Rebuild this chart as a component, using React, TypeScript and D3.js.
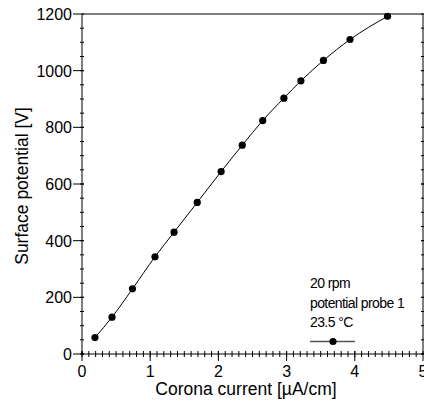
import React, { useEffect, useRef } from 'react';
import * as d3 from 'd3';

// corona current [µA/cm]
const current = [0.19, 0.44, 0.74, 1.07, 1.35, 1.69, 2.04, 2.35, 2.65, 2.96, 3.21, 3.54, 3.93, 4.48];
// surface potential [V]
const potential = [58, 130, 230, 343, 430, 535, 644, 737, 824, 903, 964, 1036, 1110, 1192];

const xTicks = [0, 1, 2, 3, 4, 5];
const yTicks = [0, 200, 400, 600, 800, 1000, 1200];
const legendLines = ['20 rpm', 'potential probe 1', '23.5 °C'];

export default function App() {
  const svgRef = useRef<SVGSVGElement>(null);

  useEffect(() => {
    const width = 424;
    const height = 404;
    const m = { left: 82, right: 423, top: 14, bottom: 354 };
    const font = 'Liberation Sans, Arial, sans-serif';

    const svg = d3.select(svgRef.current).attr('width', width).attr('height', height);
    svg.selectAll('*').remove();

    const x = d3.scaleLinear().domain([0, 5]).range([m.left, m.right]);
    const y = d3.scaleLinear().domain([0, 1200]).range([m.bottom, m.top]);

    // frame
    svg
      .append('rect')
      .attr('x', m.left)
      .attr('y', m.top)
      .attr('width', m.right - m.left)
      .attr('height', m.bottom - m.top)
      .attr('fill', 'none')
      .attr('stroke', '#000')
      .attr('stroke-width', 1);

    // x minor ticks (cross the axis)
    const xMinor = d3.range(0, 50).map((i) => i / 10);
    svg
      .append('g')
      .selectAll('line')
      .data(xMinor)
      .join('line')
      .attr('x1', (d) => x(d))
      .attr('x2', (d) => x(d))
      .attr('y1', m.bottom - 3)
      .attr('y2', m.bottom + 3)
      .attr('stroke', '#000');

    svg
      .append('g')
      .selectAll('line')
      .data(xTicks)
      .join('line')
      .attr('x1', (d) => x(d))
      .attr('x2', (d) => x(d))
      .attr('y1', m.bottom - 3)
      .attr('y2', m.bottom + 7)
      .attr('stroke', '#000');

    svg
      .append('g')
      .attr('font-family', font)
      .attr('font-size', 16)
      .attr('text-anchor', 'middle')
      .selectAll('text')
      .data(xTicks)
      .join('text')
      .attr('x', (d) => x(d))
      .attr('y', 377)
      .text((d) => d);

    // y ticks, left and right
    const yMinor = d3.range(0, 1200, 50);
    [m.left, m.right].forEach((ax, side) => {
      const dir = side === 0 ? -1 : 1;
      svg
        .append('g')
        .selectAll('line')
        .data(yMinor)
        .join('line')
        .attr('x1', ax - 2)
        .attr('x2', ax + 2)
        .attr('y1', (d) => y(d))
        .attr('y2', (d) => y(d))
        .attr('stroke', '#000');
      svg
        .append('g')
        .selectAll('line')
        .data(yTicks)
        .join('line')
        .attr('x1', ax - dir * 2)
        .attr('x2', ax + dir * 9)
        .attr('y1', (d) => y(d))
        .attr('y2', (d) => y(d))
        .attr('stroke', '#000');
    });

    svg
      .append('g')
      .attr('font-family', font)
      .attr('font-size', 16)
      .attr('text-anchor', 'end')
      .selectAll('text')
      .data(yTicks)
      .join('text')
      .attr('x', 72)
      .attr('y', (d) => y(d) + 6)
      .text((d) => d);

    // axis titles
    svg
      .append('text')
      .attr('font-family', font)
      .attr('font-size', 17.5)
      .attr('text-anchor', 'middle')
      .attr('x', 246)
      .attr('y', 395)
      .text('Corona current [µA/cm]');

    svg
      .append('text')
      .attr('font-family', font)
      .attr('font-size', 17.5)
      .attr('text-anchor', 'middle')
      .attr('transform', `translate(28,186) rotate(-90)`)
      .text('Surface potential [V]');

    // data
    const pts = current.map((c, i) => [c, potential[i]] as [number, number]);
    const line = d3
      .line<[number, number]>()
      .x((d) => x(d[0]))
      .y((d) => y(d[1]))
      .curve(d3.curveMonotoneX);

    svg
      .append('path')
      .attr('d', line(pts))
      .attr('fill', 'none')
      .attr('stroke', '#000')
      .attr('stroke-width', 1);

    svg
      .append('g')
      .selectAll('circle')
      .data(pts)
      .join('circle')
      .attr('cx', (d) => x(d[0]))
      .attr('cy', (d) => y(d[1]))
      .attr('r', 3.6)
      .attr('fill', '#000');

    // legend
    const lg = svg
      .append('g')
      .attr('font-family', font)
      .attr('font-size', 14)
      .attr('letter-spacing', -0.6);
    lg.selectAll('text')
      .data(legendLines)
      .join('text')
      .attr('x', 310)
      .attr('y', (d, i) => 288 + i * 19.5)
      .text((d) => d);
    lg.append('line')
      .attr('x1', 310)
      .attr('x2', 355)
      .attr('y1', 341.5)
      .attr('y2', 341.5)
      .attr('stroke', '#555')
      .attr('stroke-width', 1.3);
    lg.append('circle').attr('cx', 333).attr('cy', 341.5).attr('r', 3.6).attr('fill', '#000');
  }, []);

  return (
    <svg
      ref={svgRef}
      style={{ position: 'absolute', left: 0, top: 0, background: '#fff' }}
    ></svg>
  );
}
